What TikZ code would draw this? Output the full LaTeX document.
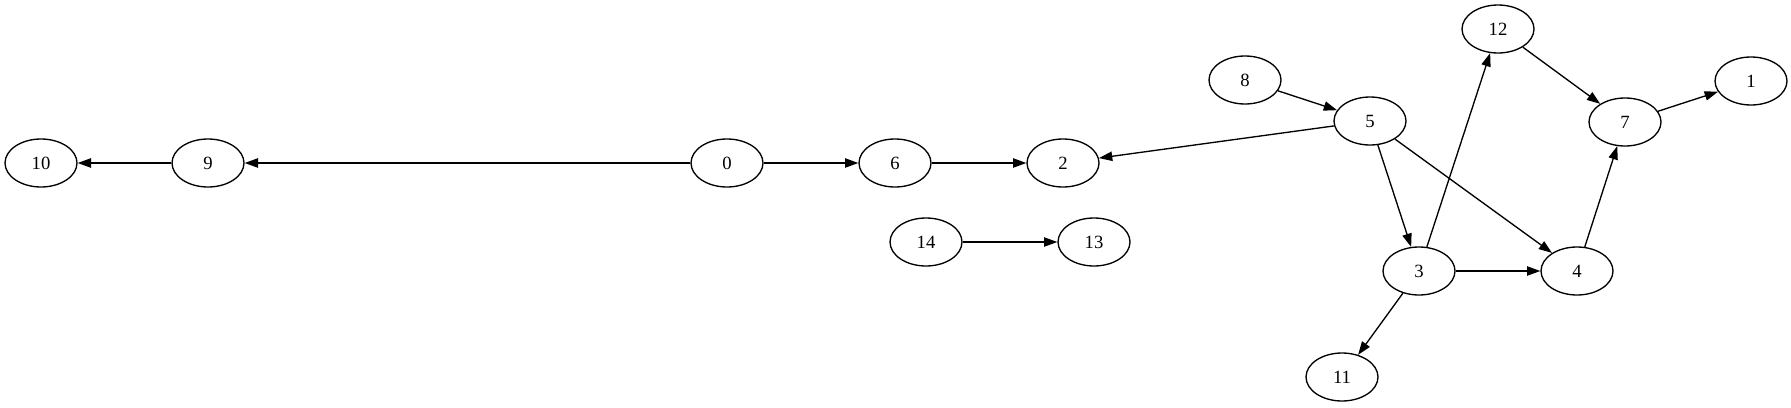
\documentclass[tikz,border=0pt]{standalone}
\usepackage{fontspec}
\setmainfont{Liberation Serif}
\usetikzlibrary{shapes.geometric,arrows.meta}
\begin{document}
\begin{tikzpicture}[x=0.75pt,y=-0.75pt,
  vnode/.style={draw,ellipse,line width=1pt,minimum width=54pt,minimum height=36pt,inner sep=0pt,font=\fontsize{14pt}{16pt}\selectfont},
  edge/.style={draw,line width=1pt,-{Triangle[length=10pt,width=7pt]}}]
\useasboundingbox (0,0) rectangle (1791,407);
\node[vnode] (n10) at (41,163) {10};
\node[vnode] (n9) at (208,163) {9};
\node[vnode] (n0) at (727,163) {0};
\node[vnode] (n6) at (895,163) {6};
\node[vnode] (n2) at (1063,163) {2};
\node[vnode] (n14) at (926,242) {14};
\node[vnode] (n13) at (1094,242) {13};
\node[vnode] (n8) at (1245,80) {8};
\node[vnode] (n5) at (1370,121) {5};
\node[vnode] (n12) at (1498,29) {12};
\node[vnode] (n7) at (1625,122) {7};
\node[vnode] (n1) at (1751,81) {1};
\node[vnode] (n3) at (1419,271) {3};
\node[vnode] (n4) at (1577,271) {4};
\node[vnode] (n11) at (1342,377) {11};
\draw[edge] (n9) -- (n10);
\draw[edge] (n0) -- (n9);
\draw[edge] (n0) -- (n6);
\draw[edge] (n6) -- (n2);
\draw[edge] (n14) -- (n13);
\draw[edge] (n8) -- (n5);
\draw[edge] (n5) -- (n2);
\draw[edge] (n5) -- (n3);
\draw[edge] (n5) -- (n4);
\draw[edge] (n3) -- (n12);
\draw[edge] (n3) -- (n4);
\draw[edge] (n3) -- (n11);
\draw[edge] (n12) -- (n7);
\draw[edge] (n4) -- (n7);
\draw[edge] (n7) -- (n1);
\end{tikzpicture}
\end{document}
